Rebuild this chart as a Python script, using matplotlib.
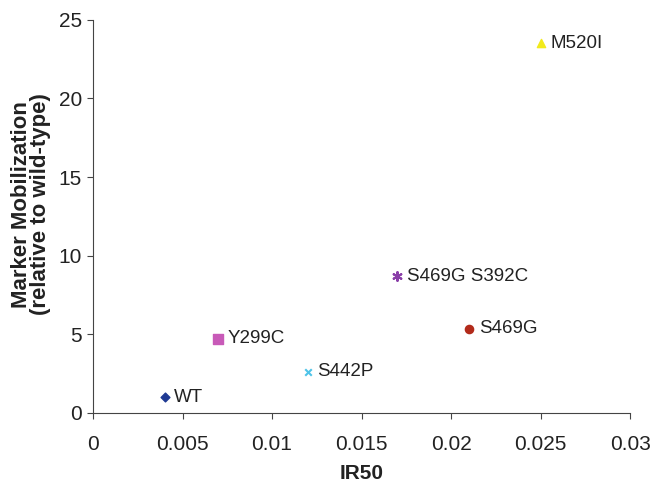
import matplotlib.pyplot as plt

plt.rcParams['font.family'] = ['Liberation Sans', 'DejaVu Sans']

labels = ['WT', 'Y299C', 'S442P', 'S469G S392C', 'S469G', 'M520I']
ir50 = [0.004, 0.007, 0.012, 0.017, 0.021, 0.025]
mobil = [1.0, 4.7, 2.6, 8.7, 5.35, 23.5]
markers = ['D', 's', 'x', (6, 2, 0), 'o', '^']
colors = ['#1f3a93', '#c85ab8', '#4fc3e8', '#8a3fa8', '#b22a1a', '#f2ea1c']
sizes = [20, 45, 22, 40, 35, 35]

fig = plt.figure(figsize=(6.55, 4.84), dpi=100)
ax = fig.add_axes([0.142, 0.147, 0.820, 0.812])

for x, y, lab, m, c, s in zip(ir50, mobil, labels, markers, colors, sizes):
    ax.scatter(x, y, marker=m, color=c, s=s, zorder=3)
    ax.annotate(lab, (x, y), xytext=(7, 0), textcoords='offset points',
                va='center', ha='left', fontsize=13.5, color='#222222')

ax.set_xlim(0, 0.03)
ax.set_ylim(0, 25)
ax.set_xticks([0, 0.005, 0.01, 0.015, 0.02, 0.025, 0.03])
ax.set_xticklabels(['0', '0.005', '0.01', '0.015', '0.02', '0.025', '0.03'])
ax.set_yticks([0, 5, 10, 15, 20, 25])
ax.tick_params(labelsize=15, length=4, color='#444444', labelcolor='#222222')
ax.tick_params(axis='x', pad=12)
ax.tick_params(axis='y', pad=4)
ax.spines['top'].set_visible(False)
ax.spines['right'].set_visible(False)
ax.spines['left'].set_color('#444444')
ax.spines['bottom'].set_color('#444444')

ax.set_xlabel('IR50', fontsize=15, fontweight='bold', color='#222222', labelpad=7)
ax.set_ylabel('Marker Mobilization\n(relative to wild-type)', fontsize=16,
              fontweight='bold', color='#222222', linespacing=0.9)
ax.yaxis.set_label_coords(-0.078, 0.53)

fig.savefig('out.png', dpi=100)
